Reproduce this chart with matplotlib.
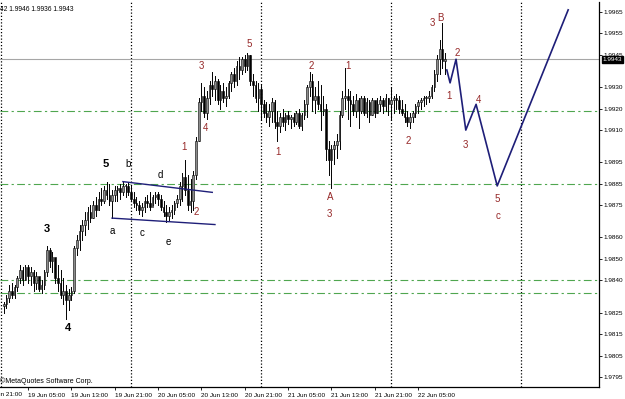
import numpy as np
import matplotlib
matplotlib.use("Agg")
import matplotlib.pyplot as plt
from matplotlib.patches import Rectangle
import matplotlib.transforms as mtransforms

plt.rcParams["font.family"] = ["Liberation Sans", "DejaVu Sans"]

# ---------------- data: M30 bars, x in hours from 19 Jun 00:00 ----------------
highs = [1.9830, 1.9833, 1.9838, 1.9839, 1.9838, 1.9842, 1.9847, 1.9846, 1.9847, 1.9847,
         1.9846, 1.9845, 1.9844, 1.9841, 1.9840, 1.9845, 1.9856, 1.9855, 1.9853, 1.9850,
         1.9847, 1.9845, 1.9841, 1.9838, 1.9836, 1.9837, 1.9856, 1.9861, 1.9866, 1.9868,
         1.9872, 1.9874, 1.9875, 1.9877, 1.9879, 1.9881, 1.9883, 1.9884, 1.9886, 1.9885,
         1.9882, 1.9884, 1.9884, 1.9885, 1.9886, 1.9885, 1.9886, 1.9884, 1.9881, 1.9879,
         1.9877, 1.9876, 1.9879, 1.9880, 1.9881, 1.9880, 1.9881, 1.9881, 1.9880, 1.9877,
         1.9875, 1.9874, 1.9875, 1.9877, 1.9880, 1.9886, 1.9890, 1.9896, 1.9889, 1.9887,
         1.9891, 1.9907, 1.9925, 1.9932, 1.9930, 1.9928, 1.9933, 1.9937, 1.9935, 1.9934,
         1.9931, 1.9932, 1.9930, 1.9933, 1.9937, 1.9939, 1.9942, 1.9944, 1.9944, 1.9945,
         1.9946, 1.9945, 1.9936, 1.9933, 1.9932, 1.9931, 1.9924, 1.9923, 1.9922, 1.9925,
         1.9924, 1.9919, 1.9918, 1.9920, 1.9918, 1.9919, 1.9917, 1.9918, 1.9919, 1.9920,
         1.9918, 1.9924, 1.9931, 1.9937, 1.9936, 1.9930, 1.9933, 1.9931, 1.9926, 1.9922,
         1.9905, 1.9903, 1.9905, 1.9908, 1.9919, 1.9928, 1.9939, 1.9929, 1.9928, 1.9926,
         1.9927, 1.9925, 1.9926, 1.9926, 1.9925, 1.9924, 1.9925, 1.9923, 1.9925, 1.9926,
         1.9925, 1.9927, 1.9925, 1.9930, 1.9926, 1.9927, 1.9926, 1.9924, 1.9922, 1.9919,
         1.9918, 1.9919, 1.9922, 1.9924, 1.9925, 1.9926, 1.9926, 1.9928, 1.9931, 1.9938,
         1.9945, 1.9952, 1.9960, 1.9946]
lows = [1.9825, 1.9827, 1.9830, 1.9832, 1.9832, 1.9835, 1.9839, 1.9838, 1.9840, 1.9839,
        1.9838, 1.9835, 1.9836, 1.9835, 1.9834, 1.9836, 1.9842, 1.9846, 1.9844, 1.9839,
        1.9835, 1.9832, 1.9829, 1.9822, 1.9826, 1.9831, 1.9834, 1.9852, 1.9854, 1.9859,
        1.9861, 1.9864, 1.9867, 1.9869, 1.9870, 1.9873, 1.9875, 1.9876, 1.9878, 1.9875,
        1.9869, 1.9877, 1.9877, 1.9878, 1.9880, 1.9879, 1.9880, 1.9877, 1.9874, 1.9873,
        1.9871, 1.9870, 1.9872, 1.9874, 1.9873, 1.9875, 1.9876, 1.9875, 1.9873, 1.9870,
        1.9867, 1.9868, 1.9869, 1.9871, 1.9874, 1.9875, 1.9877, 1.9880, 1.9873, 1.9872,
        1.9873, 1.9887, 1.9905, 1.9919, 1.9916, 1.9915, 1.9922, 1.9926, 1.9924, 1.9922,
        1.9920, 1.9923, 1.9921, 1.9925, 1.9928, 1.9930, 1.9931, 1.9934, 1.9936, 1.9937,
        1.9938, 1.9931, 1.9926, 1.9923, 1.9919, 1.9915, 1.9916, 1.9914, 1.9912, 1.9914,
        1.9911, 1.9905, 1.9909, 1.9912, 1.9910, 1.9913, 1.9911, 1.9912, 1.9913, 1.9911,
        1.9910, 1.9915, 1.9916, 1.9926, 1.9919, 1.9918, 1.9920, 1.9910, 1.9917, 1.9896,
        1.9889, 1.9883, 1.9894, 1.9897, 1.9901, 1.9916, 1.9920, 1.9915, 1.9912, 1.9917,
        1.9916, 1.9911, 1.9918, 1.9917, 1.9916, 1.9914, 1.9917, 1.9916, 1.9918, 1.9919,
        1.9918, 1.9919, 1.9917, 1.9915, 1.9918, 1.9920, 1.9918, 1.9917, 1.9914, 1.9912,
        1.9911, 1.9914, 1.9916, 1.9918, 1.9920, 1.9921, 1.9922, 1.9923, 1.9925, 1.9928,
        1.9933, 1.9936, 1.9939, 1.9936]
closes = [1.9829, 1.9832, 1.9835, 1.9833, 1.9837, 1.9841, 1.9845, 1.9840, 1.9846, 1.9842,
          1.9844, 1.9839, 1.9842, 1.9836, 1.9838, 1.9844, 1.9854, 1.9849, 1.9851, 1.9841,
          1.9839, 1.9833, 1.9835, 1.9831, 1.9833, 1.9835, 1.9855, 1.9859, 1.9863, 1.9866,
          1.9868, 1.9872, 1.9869, 1.9875, 1.9873, 1.9878, 1.9877, 1.9882, 1.9880, 1.9877,
          1.9880, 1.9882, 1.9883, 1.9881, 1.9884, 1.9884, 1.9881, 1.9878, 1.9876, 1.9875,
          1.9873, 1.9874, 1.9877, 1.9876, 1.9874, 1.9879, 1.9880, 1.9878, 1.9874, 1.9872,
          1.9870, 1.9872, 1.9873, 1.9876, 1.9878, 1.9884, 1.9888, 1.9882, 1.9875, 1.9877,
          1.9889, 1.9905, 1.9923, 1.9926, 1.9918, 1.9925, 1.9931, 1.9929, 1.9933, 1.9924,
          1.9928, 1.9925, 1.9926, 1.9932, 1.9936, 1.9933, 1.9940, 1.9938, 1.9943, 1.9940,
          1.9945, 1.9933, 1.9931, 1.9925, 1.9929, 1.9922, 1.9918, 1.9916, 1.9919, 1.9923,
          1.9914, 1.9912, 1.9916, 1.9914, 1.9917, 1.9915, 1.9916, 1.9914, 1.9918, 1.9912,
          1.9917, 1.9922, 1.9930, 1.9933, 1.9924, 1.9926, 1.9922, 1.9919, 1.9920, 1.9901,
          1.9896, 1.9901, 1.9903, 1.9905, 1.9917, 1.9925, 1.9926, 1.9924, 1.9922, 1.9919,
          1.9924, 1.9919, 1.9925, 1.9918, 1.9923, 1.9917, 1.9924, 1.9918, 1.9922, 1.9924,
          1.9921, 1.9925, 1.9922, 1.9924, 1.9925, 1.9924, 1.9920, 1.9918, 1.9916, 1.9914,
          1.9916, 1.9918, 1.9921, 1.9923, 1.9924, 1.9925, 1.9925, 1.9926, 1.9930, 1.9936,
          1.9943, 1.9948, 1.9942, 1.9943]
first_open = 1.9828

# Elliott projection (hours, price)
proj_t = [82.3, 82.9, 84.0, 85.8, 87.7, 91.6, 104.7]
proj_p = [1.9938, 1.9932, 1.9943, 1.9910, 1.9922, 1.9884, 1.9966]

# triangle boundaries
tri_upper_t, tri_upper_p = [22.5, 39.0], [1.9886, 1.9881]
tri_lower_t, tri_lower_p = [20.5, 39.5], [1.9869, 1.9866]

green_levels = [1.9919, 1.9885, 1.9840, 1.9834]
bid = 1.9943
day_seps = [0, 24, 48, 72, 96]

xtick_hours = [5, 13, 21, 29, 37, 45, 53, 61, 69, 77]
xtick_labels = ["19 Jun 05:00", "19 Jun 13:00", "19 Jun 21:00", "20 Jun 05:00",
                "20 Jun 13:00", "20 Jun 21:00", "21 Jun 05:00", "21 Jun 13:00",
                "21 Jun 21:00", "22 Jun 05:00"]
ytick_vals = [1.9965, 1.9955, 1.9945, 1.9930, 1.9920, 1.9910, 1.9895, 1.9885,
              1.9875, 1.9860, 1.9850, 1.9840, 1.9825, 1.9815, 1.9805, 1.9795]

red_labels = [("1", 33.8, 1.9902), ("2", 36.0, 1.9872), ("3", 36.9, 1.9940),
              ("4", 37.8, 1.9911), ("5", 45.8, 1.9950), ("1", 51.1, 1.9900),
              ("2", 57.2, 1.9940), ("1", 64.1, 1.9940), ("A", 60.7, 1.9879),
              ("3", 60.7, 1.9871), ("2", 75.1, 1.9905), ("3", 79.7, 1.9960),
              ("B", 81.2, 1.9962), ("1", 82.7, 1.9926), ("2", 84.2, 1.9946),
              ("3", 85.7, 1.9903), ("4", 88.2, 1.9924), ("5", 91.6, 1.9878),
              ("c", 91.7, 1.9870)]
black_big = [("5", 19.4, 1.9894), ("3", 8.5, 1.9864), ("4", 12.4, 1.9818)]
black_small = [("b", 23.4, 1.9894), ("a", 20.5, 1.9863), ("c", 26.0, 1.9862),
               ("d", 29.4, 1.9889), ("e", 30.8, 1.9858)]

RED = "#962828"
NAVY = "#1e1e78"
GREEN = "#4fa64f"

fig = plt.figure(figsize=(6.25, 3.99), dpi=100)
ax = fig.add_axes([0, 12 / 399, 599 / 625, 385 / 399])
ax.set_xlim(-0.185, 110.39)
ax.set_ylim(1.979034, 1.996966)

# separators, levels
for h in day_seps:
    ax.axvline(h, color="black", lw=0.9, ls=(0, (1, 1.6)), zorder=1)
for lv in green_levels:
    ax.axhline(lv, color=GREEN, lw=0.8, ls=(0, (7, 3, 2, 3)), zorder=1)
ax.axhline(bid, color="#a6a6a6", lw=0.8, zorder=1)

# candles
opens = [first_open] + closes[:-1]
times = 0.5 * np.arange(1, len(closes) + 1)
w = 0.30
for t, o, h, l, c in zip(times, opens, highs, lows, closes):
    ax.plot([t, t], [l, h], color="black", lw=0.7, zorder=3)
    up = c >= o
    ax.add_patch(Rectangle((t - w / 2, min(o, c)), w, max(abs(c - o), 0.00003),
                           facecolor="#8c8c8c" if up else "black",
                           edgecolor="black", lw=0.4, zorder=4))

# trend lines and projection
ax.plot(tri_upper_t, tri_upper_p, color=NAVY, lw=1.0, zorder=5)
ax.plot(tri_lower_t, tri_lower_p, color=NAVY, lw=1.0, zorder=5)
ax.plot(proj_t, proj_p, color=NAVY, lw=1.2, zorder=5)

# wave labels
for s, t, p in red_labels:
    ax.text(t, p, s, color=RED, fontsize=7, ha="center", va="center", zorder=6)
for s, t, p in black_big:
    ax.text(t, p, s, color="black", fontsize=8, fontweight="bold",
            ha="center", va="center", zorder=6)
for s, t, p in black_small:
    ax.text(t, p, s, color="black", fontsize=7, ha="center", va="center", zorder=6)

# axes styling
for sp in ("top", "left"):
    ax.spines[sp].set_visible(False)
ax.spines["right"].set_linewidth(0.9)
ax.spines["bottom"].set_linewidth(0.9)
ax.yaxis.tick_right()
ax.set_yticks(ytick_vals)
ax.set_yticklabels([f"{v:.4f}" for v in ytick_vals])
ax.tick_params(axis="y", length=2, width=0.6, pad=1.5, labelsize=4.6)
ax.set_xticks(xtick_hours)
ax.set_xticklabels(xtick_labels)
ax.tick_params(axis="x", length=2.5, width=0.6, pad=1.5, labelsize=4.6)
for lab in ax.get_xticklabels():
    lab.set_horizontalalignment("left")

# first date label, partly outside the window as in the terminal
trans = mtransforms.blended_transform_factory(ax.transData, ax.transAxes)
ax.text(-3, -0.012, "18 Jun 21:00", transform=trans, fontsize=4.6,
        ha="left", va="top", clip_on=False)

# current price box
ax.text(1.006, bid, "1.9943", transform=mtransforms.blended_transform_factory(ax.transAxes, ax.transData),
        color="white", fontsize=4.6, ha="left", va="center", zorder=10, clip_on=False,
        bbox=dict(boxstyle="square,pad=0.15", facecolor="black", edgecolor="black"))

fig.text(0.0, 0.985, "42 1.9946 1.9936 1.9943", fontsize=4.8, ha="left", va="top")
fig.text(0.0, 0.035, "\u00a9MetaQuotes Software Corp.", fontsize=5, ha="left", va="bottom")

fig.savefig("out.png", dpi=100)
